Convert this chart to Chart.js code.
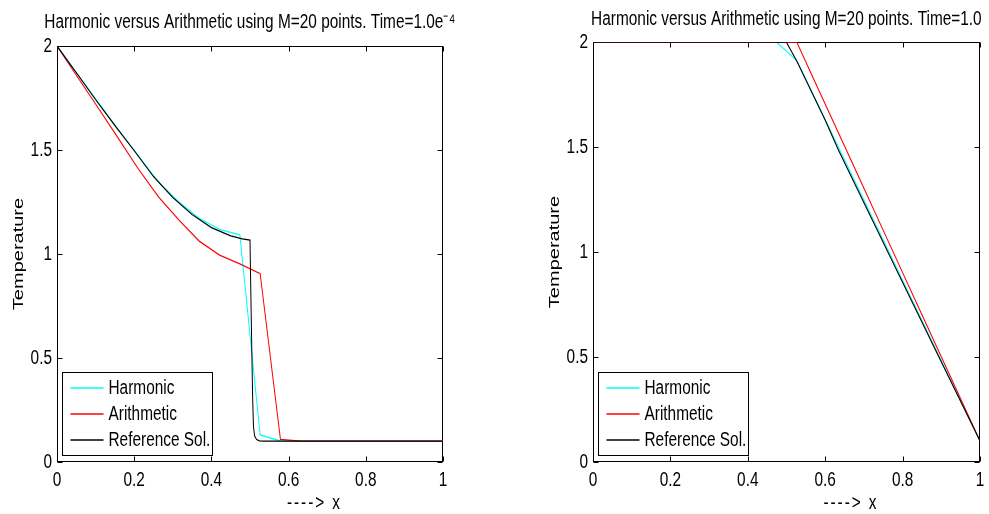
<!DOCTYPE html>
<html><head><meta charset="utf-8">
<script src="https://cdn.jsdelivr.net/npm/chart.js@4/dist/chart.umd.min.js"></script>
<style>
html,body{margin:0;padding:0;background:#fff;overflow:hidden;width:989px;height:514px;}
#wrap{position:relative;width:989px;height:514px;overflow:hidden;background:#fff;}
.box{position:absolute;top:0;height:514px;overflow:hidden;}
canvas{position:absolute;left:0;top:0;}
</style></head><body>
<div id="wrap">
<div class="box" style="left:0px;width:500px"><canvas id="c1"></canvas></div>
<div class="box" style="left:540px;width:493px"><canvas id="c2"></canvas></div>
</div>
<script>
// ---------- data ----------
const seriesLabels = ['Harmonic', 'Arithmetic', 'Reference Sol.'];
const gridX = [0, 0.0526, 0.1053, 0.1579, 0.2105, 0.2632, 0.3158, 0.3684, 0.4211, 0.4737,
               0.5263, 0.5789, 0.6316, 0.6842, 0.7368, 0.7895, 0.8421, 0.8947, 0.9474, 1];

// Time = 1.0e-4
const harmonicEarly   = [2, 1.866, 1.732, 1.600, 1.473, 1.345, 1.250, 1.172, 1.118, 1.092,
                         0.130, 0.101, 0.1, 0.1, 0.1, 0.1, 0.1, 0.1, 0.1, 0.1];
const arithmeticEarly = [2, 1.853, 1.706, 1.559, 1.409, 1.274, 1.163, 1.062, 0.995, 0.952,
                         0.905, 0.109, 0.1, 0.1, 0.1, 0.1, 0.1, 0.1, 0.1, 0.1];
const refXEarly = [0, 0.05, 0.1, 0.15, 0.2, 0.25, 0.3, 0.35, 0.4, 0.45, 0.48, 0.5,
                   0.501, 0.503, 0.505, 0.507, 0.509, 0.512, 0.517, 0.525, 0.535, 0.6, 0.7, 0.8, 0.9, 1];
const refTEarly = [2, 1.872, 1.742, 1.618, 1.497, 1.372, 1.272, 1.19, 1.127, 1.087, 1.073, 1.067,
                   0.95, 0.72, 0.5, 0.3, 0.17, 0.125, 0.108, 0.102, 0.1, 0.1, 0.1, 0.1, 0.1, 0.1];

// Time = 1.0
const harmonicLate   = [2, 2, 2, 2, 2, 2, 2, 2, 2, 2,
                        1.912, 1.711, 1.509, 1.308, 1.107, 0.905, 0.704, 0.503, 0.301, 0.1];
const arithmeticLate = [2, 2, 2, 2, 2, 2, 2, 2, 2, 2,
                        2, 1.789, 1.578, 1.367, 1.156, 0.944, 0.733, 0.522, 0.311, 0.1];
const refXLate = [0, 0.4995, 0.51, 0.527, 0.55, 0.6, 0.634, 0.7, 0.8, 0.9, 1];
const refTLate = [2, 2, 1.965, 1.908, 1.82, 1.628, 1.486, 1.235, 0.855, 0.477, 0.1];

const xTicks = [0, 0.2, 0.4, 0.6, 0.8, 1];
const xTickLabels = ['0', '0.2', '0.4', '0.6', '0.8', '1'];
const yTicks = [0, 0.5, 1, 1.5, 2];
const yTickLabels = ['0', '0.5', '1', '1.5', '2'];

const titleEarly = 'Harmonic versus Arithmetic using M=20 points. Time=1.0e\u207B\u2074';
const titleLate = 'Harmonic versus Arithmetic using M=20 points. Time=1.0';
const yLabel = 'Temperature';
const xLabel = '----> x';

// ---------- drawing ----------
const SX = 0.77;            // horizontal text condensation (reference glyphs are tall & narrow)
const FONT = '"Liberation Sans", Arial, Helvetica, sans-serif';
const FS = 20;
const LH = FS * 1.2;
const H = 514;
const colors = ['#00ffff', '#ff0000', '#000000'];

function frameBox(chart) {
  const a = chart.chartArea;
  return {
    L: Math.round(a.left * SX) + 0.5, R: Math.round(a.right * SX) - 0.5,
    T: Math.round(a.top) + 0.5, B: Math.round(a.bottom) - 0.5
  };
}

const framePlugin = {
  id: 'frame',
  beforeDraw(chart) {
    chart.ctx.save();
    chart.ctx.setTransform(SX, 0, 0, 1, 0, 0);
  },
  beforeDatasetsDraw(chart) {
    const {ctx, scales: {x, y}} = chart;
    const {L, R, T, B} = frameBox(chart);
    ctx.save();
    ctx.setTransform(1, 0, 0, 1, 0, 0);
    ctx.strokeStyle = '#000';
    ctx.lineWidth = 1;
    ctx.strokeRect(L, T, R - L, B - T);
    ctx.beginPath();
    x.ticks.forEach(t => {
      const px = Math.round(x.getPixelForValue(t.value) * SX) + 0.5;
      ctx.moveTo(px, B); ctx.lineTo(px, B - 5);
      ctx.moveTo(px, T); ctx.lineTo(px, T + 5);
    });
    y.ticks.forEach(t => {
      const py = Math.round(y.getPixelForValue(t.value)) + 0.5;
      ctx.moveTo(L, py); ctx.lineTo(L + 5, py);
      ctx.moveTo(R, py); ctx.lineTo(R - 5, py);
    });
    ctx.stroke();
    ctx.restore();
  },
  afterDraw(chart) {
    const {ctx, chartArea: a} = chart;
    ctx.restore();
    const {L, R} = frameBox(chart);
    ctx.save();
    ctx.setTransform(1, 0, 0, 1, 0, 0);
    ctx.strokeStyle = '#000';
    ctx.lineWidth = 1;

    // legend box + samples (display coordinates)
    const bx = L + 5, by = Math.round(a.bottom) - 89.5;
    ctx.fillStyle = '#fff';
    ctx.fillRect(bx, by, 150, 83);
    ctx.strokeRect(bx, by, 150, 83);
    const rows = chart.data.datasets.map((ds, i) => Math.round(a.bottom) - 74 + i * 26);
    chart.data.datasets.forEach((ds, i) => {
      ctx.strokeStyle = ds.borderColor;
      ctx.lineWidth = 1.3;
      ctx.beginPath();
      ctx.moveTo(L + 13, rows[i]); ctx.lineTo(L + 46, rows[i]);
      ctx.stroke();
    });

    // condensed text
    ctx.setTransform(SX, 0, 0, 1, 0, 0);
    ctx.fillStyle = '#000';
    ctx.font = FS + 'px ' + FONT;
    ctx.textAlign = 'left';
    ctx.textBaseline = 'middle';
    chart.data.datasets.forEach((ds, i) => {
      ctx.fillText(ds.label, (L + 51) / SX, rows[i]);
    });
    try { ctx.letterSpacing = '2.5px'; } catch (e) {}
    ctx.fillText(xLabel, ((L + R) / 2 + 37) / SX, a.bottom + 41.5);
    ctx.restore();
  }
};

function makeChart(id, o) {
  const cw = Math.round(o.canvasW / SX);
  const canvas = document.getElementById(id);
  canvas.width = cw; canvas.height = H;
  canvas.style.width = cw + 'px'; canvas.style.height = H + 'px';
  const pl = o.plotLeft / SX, pr = o.plotRight / SX;
  const titleTop = o.titleMid - LH / 2;
  const tickFont = {family: FONT, size: FS};
  new Chart(canvas, {
    type: 'line',
    data: {
      datasets: [
        {label: seriesLabels[0], data: gridX.map((x, i) => ({x, y: o.h[i]})), borderColor: colors[0], order: 3},
        {label: seriesLabels[1], data: gridX.map((x, i) => ({x, y: o.a[i]})), borderColor: colors[1], order: 2},
        {label: seriesLabels[2], data: o.rx.map((x, i) => ({x, y: o.r[i]})), borderColor: colors[2], order: 1}
      ]
    },
    options: {
      responsive: false,
      animation: false,
      events: [],
      devicePixelRatio: 1,
      layout: {padding: 0},
      elements: {point: {radius: 0}, line: {borderWidth: 1.3, tension: 0, fill: false}},
      plugins: {
        legend: {display: false},
        tooltip: {enabled: false},
        title: {
          display: true, text: o.title, color: '#000',
          font: {family: FONT, size: FS, weight: 'normal'},
          padding: {top: titleTop, bottom: o.plotTop - titleTop - LH}
        }
      },
      scales: {
        x: {
          type: 'linear', min: 0, max: 1,
          grid: {display: false, drawTicks: false},
          border: {display: false},
          afterBuildTicks: s => { s.ticks = xTicks.map(v => ({value: v})); },
          ticks: {callback: (v, i) => xTickLabels[i], padding: 6, color: '#000', font: tickFont, maxRotation: 0, autoSkip: false},
          afterFit: s => { s.height = H - o.plotBottom; }
        },
        y: {
          type: 'linear', min: 0, max: 2, position: 'left',
          grid: {display: false, drawTicks: false},
          border: {display: false},
          afterBuildTicks: s => { s.ticks = yTicks.map(v => ({value: v})); },
          ticks: {callback: (v, i) => yTickLabels[i], padding: 5 / SX, color: '#000', font: tickFont, autoSkip: false},
          title: {display: true, text: yLabel, color: '#000', font: {family: FONT, size: FS},
                  padding: {top: (o.plotLeft - 38.5) / SX - LH / 2, bottom: 0}},
          afterFit: s => { s.width = pl; }
        },
        yr: {
          type: 'linear', position: 'right', display: true,
          grid: {display: false, drawTicks: false},
          border: {display: false},
          ticks: {display: false},
          afterFit: s => { s.width = cw - pr; }
        }
      }
    },
    plugins: [framePlugin]
  });
}

makeChart('c1', {title: titleEarly, h: harmonicEarly, a: arithmeticEarly, rx: refXEarly, r: refTEarly,
  canvasW: 500, plotLeft: 57, plotRight: 443, plotTop: 46, plotBottom: 462, titleMid: 22.3});
makeChart('c2', {title: titleLate, h: harmonicLate, a: arithmeticLate, rx: refXLate, r: refTLate,
  canvasW: 493, plotLeft: 53, plotRight: 440, plotTop: 42, plotBottom: 462, titleMid: 19.0});
</script>
</body></html>
